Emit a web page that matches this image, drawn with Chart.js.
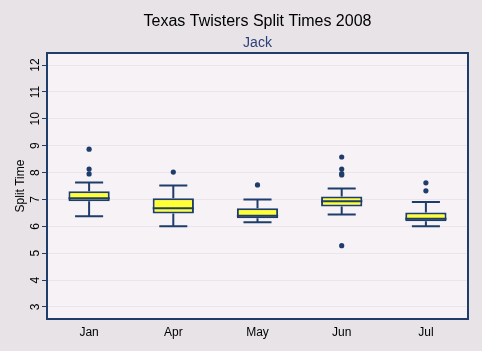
<!DOCTYPE html>
<html>
<head>
<meta charset="utf-8">
<script src="https://cdn.jsdelivr.net/npm/chart.js@4"></script>
<style>
  body { margin: 0; background: #e7e3e7; }
  #wrap { width: 482px; height: 351px; position: relative; }
</style>
</head>
<body>
<div id="wrap"><canvas id="boxChart"></canvas></div>
<script>
// Box plot data
const months = ['Jan', 'Apr', 'May', 'Jun', 'Jul'];
const whiskerLow = [6.37, 6.0, 6.15, 6.44, 6.0];
const q1 = [6.93, 6.48, 6.30, 6.74, 6.19];
const medians = [7.04, 6.67, 6.39, 6.93, 6.28];
const q3 = [7.30, 7.04, 6.67, 7.11, 6.51];
const whiskerHigh = [7.63, 7.52, 7.0, 7.41, 6.9];
const outliers = [
    [8.87, 8.13, 7.95],
    [8.02],
    [7.54],
    [8.58, 8.13, 7.96, 7.91, 5.28],
    [7.62, 7.32]
];
const yTicks = [3, 4, 5, 6, 7, 8, 9, 10, 11, 12];

const navy = '#1e3d6b';

const boxData = months.map((m, i) => [q1[i], q3[i]]);
const outlierPoints = outliers.flatMap((arr, i) => arr.map(v => ({ x: months[i], y: v })));

// plot area background + frame
const plotFrame = {
    id: 'plotFrame',
    beforeDraw(chart) {
        const { ctx, chartArea: a } = chart;
        ctx.save();
        ctx.fillStyle = '#f6f2f6';
        ctx.fillRect(a.left, a.top, a.right - a.left, a.bottom - a.top);
        ctx.restore();
    },
    afterDraw(chart) {
        const { ctx, chartArea: a } = chart;
        ctx.save();
        ctx.strokeStyle = navy;
        ctx.lineWidth = 2;
        ctx.strokeRect(a.left, a.top, a.right - a.left, a.bottom - a.top);
        ctx.restore();
    }
};

// whiskers and medians, placed with the chart's own scales
const whiskers = {
    id: 'whiskers',
    beforeDatasetsDraw(chart) {
        const { ctx, scales: { y } } = chart;
        const bars = chart.getDatasetMeta(0).data;
        ctx.save();
        ctx.strokeStyle = navy;
        ctx.lineWidth = 2;
        bars.forEach((bar, i) => {
            const half = bar.width * 0.34;
            const yLo = y.getPixelForValue(whiskerLow[i]);
            const yHi = y.getPixelForValue(whiskerHigh[i]);
            const yQ1 = y.getPixelForValue(q1[i]);
            const yQ3 = y.getPixelForValue(q3[i]);
            ctx.beginPath();
            ctx.moveTo(bar.x, yHi); ctx.lineTo(bar.x, yQ3);
            ctx.moveTo(bar.x, yQ1); ctx.lineTo(bar.x, yLo);
            ctx.moveTo(bar.x - half, yHi); ctx.lineTo(bar.x + half, yHi);
            ctx.moveTo(bar.x - half, yLo); ctx.lineTo(bar.x + half, yLo);
            ctx.stroke();
        });
        ctx.restore();
    },
    afterDatasetsDraw(chart) {
        const { ctx, scales: { y } } = chart;
        const bars = chart.getDatasetMeta(0).data;
        ctx.save();
        ctx.strokeStyle = navy;
        ctx.lineWidth = 2;
        bars.forEach((bar, i) => {
            const yMed = y.getPixelForValue(medians[i]);
            ctx.beginPath();
            ctx.moveTo(bar.x - bar.width / 2, yMed);
            ctx.lineTo(bar.x + bar.width / 2, yMed);
            ctx.stroke();
        });
        ctx.restore();
    }
};

Chart.defaults.font.family = "'Liberation Sans', Arial, sans-serif";
Chart.defaults.color = '#000';

new Chart(document.getElementById('boxChart'), {
    type: 'bar',
    data: {
        labels: months,
        datasets: [
            {
                label: 'Box',
                data: boxData,
                backgroundColor: '#ffff33',
                borderColor: navy,
                borderWidth: 2,
                borderSkipped: false,
                barPercentage: 0.49,
                categoryPercentage: 1
            },
            {
                type: 'line',
                label: 'Outliers',
                data: outlierPoints,
                showLine: false,
                pointStyle: 'circle',
                pointRadius: 2.6,
                pointBorderWidth: 0,
                pointBackgroundColor: navy
            }
        ]
    },
    options: {
        responsive: true,
        maintainAspectRatio: false,
        animation: false,
        layout: { padding: { left: 0, right: 14, top: 0, bottom: 0 } },
        plugins: {
            legend: { display: false },
            tooltip: { enabled: false },
            title: {
                display: true,
                text: 'Texas Twisters Split Times 2008',
                fullSize: false,
                color: '#000',
                font: { size: 16, weight: 'normal' },
                padding: { top: 12, bottom: 2 }
            },
            subtitle: {
                display: true,
                text: 'Jack',
                fullSize: false,
                color: '#2c3f78',
                font: { size: 14, weight: 'normal' },
                padding: { top: 1.5, bottom: 1.5 }
            }
        },
        scales: {
            x: {
                grid: { display: false, drawTicks: false },
                border: { display: false },
                ticks: { color: '#000', font: { size: 12 }, padding: 6 },
                afterFit(scale) { scale.height = 32; }
            },
            y: {
                min: 2.55,
                max: 12.45,
                afterBuildTicks(scale) { scale.ticks = yTicks.map(v => ({ value: v })); },
                grid: { color: '#ebe5eb', tickColor: navy, tickLength: 5, lineWidth: 1 },
                border: { display: false },
                ticks: {
                    color: '#000',
                    font: { size: 12 },
                    minRotation: 90,
                    maxRotation: 90,
                    crossAlign: 'center',
                    padding: 0
                },
                title: {
                    display: true,
                    text: 'Split Time',
                    color: '#000',
                    font: { size: 12 },
                    padding: { top: 13, bottom: 0 }
                },
                afterFit(scale) { scale.width = 47; }
            }
        }
    },
    plugins: [plotFrame, whiskers]
});
</script>
</body>
</html>
